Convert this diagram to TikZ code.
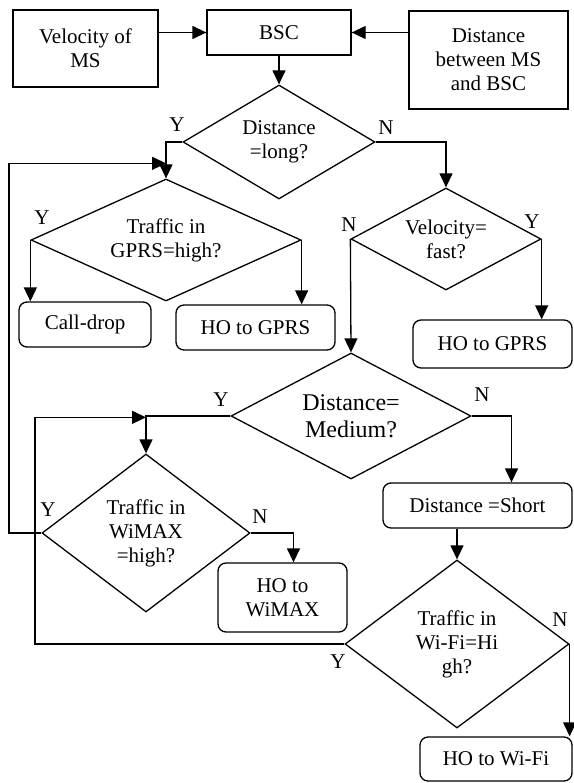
\documentclass[tikz,border=0pt]{standalone}
\usepackage{fontspec}
\setmainfont{Liberation Serif}
\usepackage{tikz}
\usetikzlibrary{arrows.meta}
\usetikzlibrary{shapes.geometric}

\begin{document}
\begin{tikzpicture}[x=1pt,y=-1pt,
  line width=1.3pt,
  box/.style={draw,rectangle,inner sep=0pt,align=center,
    font=\fontsize{21}{24}\selectfont},
  rbox/.style={box,rounded corners=8pt},
  decide/.style={draw,diamond,inner sep=0pt,align=center,
    font=\fontsize{21}{24}\selectfont},
  arr/.style={-{Triangle[length=14pt,width=13pt]}},
  yn/.style={font=\fontsize{21}{24}\selectfont}]
  \useasboundingbox (0,0) rectangle (573,783);

  % inputs
  \node[box,minimum width=145pt,minimum height=77pt] (vel) at (85.5,48.5) {Velocity of\\MS};
  \node[box,minimum width=144pt,minimum height=45pt] (bsc) at (279,32.5) {BSC};
  \node[box,minimum width=159pt,minimum height=98pt] (dist) at (488.5,60) {Distance\\between MS\\and BSC};

  % decisions
  \node[decide,aspect=1.68,minimum width=192pt,minimum height=114pt] (d1) at (279,142) {Distance\\=long?};
  \node[decide,aspect=2.2,minimum width=270pt,minimum height=122pt] (d2) at (166,240) {Traffic in\\GPRS=high?};
  \node[decide,aspect=1.86,minimum width=190pt,minimum height=102pt] (d3) at (446,239) {Velocity=\\fast?};
  \node[decide,aspect=1.9,minimum width=240pt,minimum height=126pt,
    font=\fontsize{24}{27}\selectfont] (d4) at (351,416) {Distance=\\Medium?};
  \node[decide,aspect=1.32,minimum width=208pt,minimum height=158pt] (d5) at (146,533) {Traffic in\\WiMAX\\=high?};
  \node[decide,aspect=1.33,minimum width=224pt,minimum height=168pt] (d6) at (457,644) {Traffic in\\Wi-Fi=Hi\\gh?};

  % outcomes
  \node[rbox,minimum width=132pt,minimum height=45pt] (cdrop) at (85,324.5) {Call-drop};
  \node[rbox,minimum width=159pt,minimum height=45pt] (hogprsa) at (255.5,327.5) {HO to GPRS};
  \node[rbox,minimum width=159pt,minimum height=48pt] (hogprsb) at (492.5,344) {HO to GPRS};
  \node[rbox,minimum width=129pt,minimum height=69pt] (howimax) at (282.5,597.5) {HO to\\WiMAX};
  \node[rbox,minimum width=189pt,minimum height=45pt] (dshort) at (477.5,505.5) {Distance =Short};
  \node[rbox,minimum width=152pt,minimum height=44pt] (howifi) at (496,759) {HO to Wi-Fi};

  % loop-back lanes
  \coordinate (lxa) at (9,0);
  \coordinate (lxb) at (35,0);

  % connectors
  \draw[arr] (vel.east |- bsc.west) -- (bsc.west);
  \draw[arr] (dist.west |- bsc.east) -- (bsc.east);
  \draw[arr] (bsc.south) -- (d1.north);
  \draw[arr] (d1.west) -| (d2.north);
  \draw[arr] (d1.east) -| (d3.north);
  \draw[arr] (d2.west) -- (d2.west |- cdrop.north);
  \draw[arr] (d2.east) -- (d2.east |- hogprsa.north);
  \draw[arr] (d3.east) -- (d3.east |- hogprsb.north);
  \draw[arr] (d3.west) -- (d4.north);
  \draw[arr] (d4.west) -| (d5.north);
  \draw[arr] (d4.east) -| ([xshift=34pt]dshort.north);
  \draw[arr] (d5.east) -| ([xshift=11pt]howimax.north);
  \draw[arr] (d6.north |- dshort.south) -- (d6.north);
  \draw[arr] (d6.east) -- (d6.east |- howifi.north);
  \draw[arr] (d5.west) -- (d5.west -| lxa) |- ([yshift=15pt]d2.north);
  \draw[arr] (d6.west) -- (d6.west -| lxb) |- ([yshift=36pt]d5.north);

  % labels
  \node[yn] at (177,125) {Y};
  \node[yn] at (386,128) {N};
  \node[yn] at (42,218) {Y};
  \node[yn] at (349,225) {N};
  \node[yn] at (532,222) {Y};
  \node[yn] at (221,400) {Y};
  \node[yn] at (482,395) {N};
  \node[yn] at (48,510) {Y};
  \node[yn] at (260,517) {N};
  \node[yn] at (560,620) {N};
  \node[yn] at (338,662) {Y};
\end{tikzpicture}
\end{document}
